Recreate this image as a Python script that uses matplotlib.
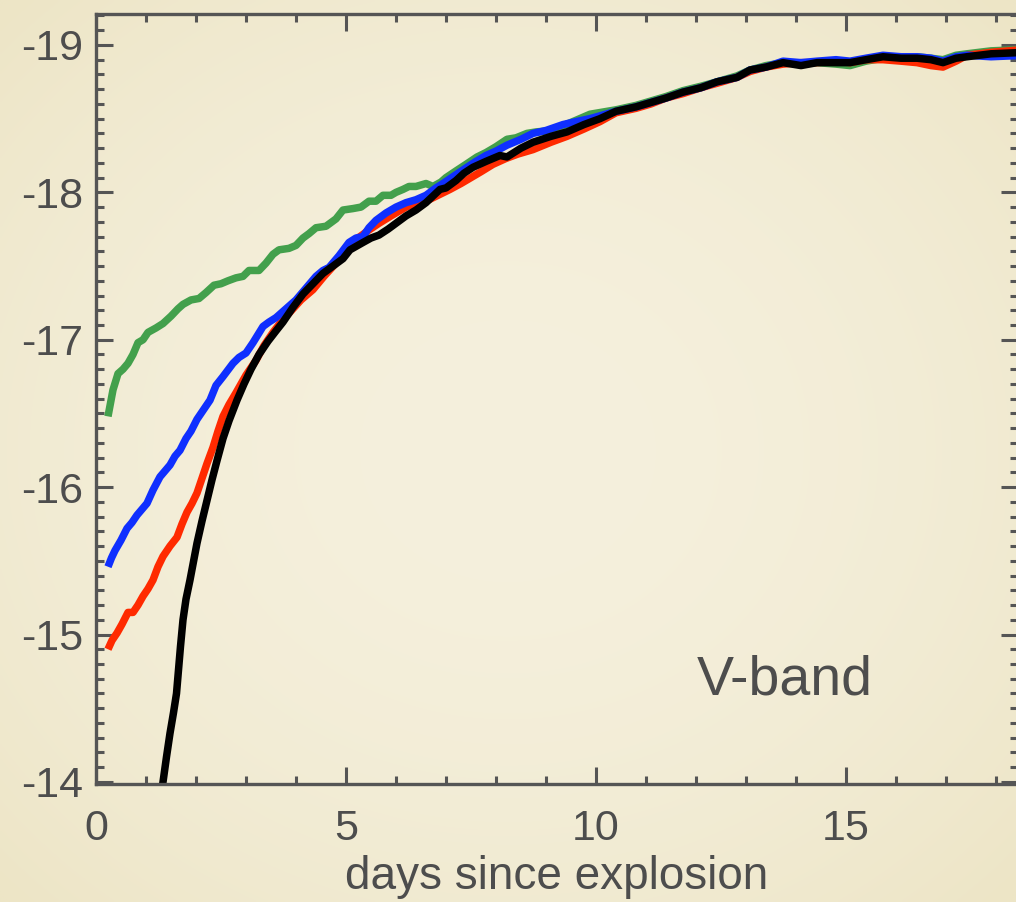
import numpy as np
import matplotlib
matplotlib.use('Agg')
import matplotlib.pyplot as plt
from matplotlib.ticker import MultipleLocator

plt.rcParams['font.family'] = ['Liberation Sans', 'DejaVu Sans']

# light curves (days, absolute V magnitude)
tail_t = [10.4, 10.8, 11.1, 11.4, 11.74, 12.1, 12.42, 12.82, 13.08, 13.4, 13.74, 14.1,
          14.42, 14.8, 15.08, 15.4, 15.74, 16.1, 16.42, 16.7, 16.94, 17.2, 17.42, 17.9, 18.6]

green_t = [0.24, 0.34, 0.44, 0.54, 0.64, 0.74, 0.84, 0.94, 1.04, 1.2, 1.34, 1.5, 1.64, 1.74,
           1.9, 2.06, 2.2, 2.36, 2.5, 2.64, 2.8, 2.94, 3.06, 3.26, 3.4, 3.54, 3.66, 3.86, 4.0,
           4.14, 4.26, 4.4, 4.6, 4.8, 4.94, 5.14, 5.3, 5.46, 5.6, 5.74, 5.9, 6.0, 6.14, 6.26,
           6.4, 6.6, 6.74, 6.9, 7.0, 7.22, 7.4, 7.62, 7.8, 8.0, 8.22, 8.4, 8.62, 8.8, 9.14,
           9.4, 9.88] + tail_t
green_m = [-16.48, -16.66, -16.77, -16.80, -16.84, -16.90, -16.98, -17.00, -17.05, -17.08,
           -17.11, -17.16, -17.21, -17.24, -17.27, -17.28, -17.32, -17.37, -17.38, -17.40,
           -17.42, -17.43, -17.47, -17.47, -17.52, -17.58, -17.61, -17.62, -17.64, -17.69,
           -17.72, -17.76, -17.77, -17.82, -17.88, -17.89, -17.90, -17.94, -17.94, -17.98,
           -17.98, -18.00, -18.02, -18.04, -18.04, -18.06, -18.04, -18.07, -18.10, -18.15,
           -18.19, -18.24, -18.27, -18.31, -18.36, -18.37, -18.40, -18.41, -18.42, -18.46,
           -18.53,
           -18.56, -18.59, -18.62, -18.65, -18.69, -18.72, -18.75, -18.79, -18.83, -18.86,
           -18.88, -18.87, -18.88, -18.87, -18.86, -18.89, -18.91, -18.92, -18.92, -18.91,
           -18.90, -18.93, -18.94, -18.96, -18.97]

blue_t = [0.24, 0.31, 0.38, 0.5, 0.62, 0.72, 0.82, 0.92, 1.02, 1.14, 1.28, 1.38, 1.48, 1.58,
          1.68, 1.8, 1.9, 2.02, 2.14, 2.28, 2.4, 2.54, 2.74, 2.86, 3.0, 3.14, 3.34, 3.46, 3.6,
          3.8, 4.0, 4.2, 4.4, 4.54, 4.66, 4.86, 5.06, 5.2, 5.34, 5.46, 5.6, 5.8, 6.0, 6.2, 6.4,
          6.6, 6.8, 6.94, 7.2, 7.42, 7.6, 7.8, 8.0, 8.22, 8.5, 8.74, 9.0, 9.34, 9.6, 9.88] + tail_t
blue_m = [-15.46, -15.52, -15.57, -15.64, -15.72, -15.76, -15.81, -15.85, -15.89, -15.98,
          -16.07, -16.11, -16.15, -16.21, -16.25, -16.33, -16.38, -16.46, -16.52, -16.59,
          -16.69, -16.75, -16.84, -16.88, -16.91, -16.98, -17.09, -17.12, -17.15, -17.21,
          -17.27, -17.35, -17.43, -17.47, -17.49, -17.57, -17.66, -17.69, -17.70, -17.76,
          -17.81, -17.86, -17.90, -17.93, -17.95, -17.98, -18.03, -18.06, -18.12, -18.17,
          -18.21, -18.25, -18.28, -18.32, -18.36, -18.40, -18.42, -18.46, -18.48, -18.50,
          -18.55, -18.58, -18.61, -18.64, -18.68, -18.71, -18.75, -18.78, -18.83, -18.85,
          -18.89, -18.88, -18.89, -18.90, -18.89, -18.91, -18.93, -18.92, -18.92, -18.91,
          -18.89, -18.92, -18.93, -18.92, -18.93]

red_t = [0.24, 0.32, 0.42, 0.52, 0.64, 0.74, 0.84, 0.94, 1.04, 1.14, 1.24, 1.34, 1.48, 1.62,
         1.72, 1.82, 1.92, 2.02, 2.12, 2.22, 2.34, 2.44, 2.54, 2.66, 2.8, 3.0, 3.2, 3.36, 3.54,
         3.7, 3.86, 4.1, 4.34, 4.56, 4.8, 5.0, 5.2, 5.44, 5.66, 5.9, 6.2, 6.44, 6.66, 6.84,
         7.08, 7.3, 7.5, 7.7, 7.94, 8.2, 8.44, 8.74, 9.1, 9.42, 9.76, 10.08] + tail_t
red_m = [-14.90, -14.96, -15.01, -15.07, -15.15, -15.15, -15.20, -15.26, -15.31, -15.37,
         -15.46, -15.53, -15.60, -15.66, -15.75, -15.83, -15.89, -15.96, -16.06, -16.16,
         -16.27, -16.38, -16.48, -16.56, -16.64, -16.76, -16.86, -16.96, -17.05, -17.12,
         -17.18, -17.27, -17.34, -17.43, -17.52, -17.60, -17.68, -17.74, -17.79, -17.84,
         -17.90, -17.93, -17.95, -17.98, -18.02, -18.06, -18.10, -18.14, -18.19, -18.23,
         -18.26, -18.29, -18.34, -18.38, -18.43, -18.48,
         -18.54, -18.57, -18.60, -18.64, -18.67, -18.71, -18.74, -18.78, -18.82, -18.85,
         -18.87, -18.88, -18.88, -18.89, -18.88, -18.90, -18.90, -18.89, -18.88, -18.86,
         -18.85, -18.89, -18.93, -18.95, -18.97]

black_t = [1.30, 1.34, 1.41, 1.48, 1.55, 1.61, 1.65, 1.69, 1.74, 1.80, 1.88, 2.02, 2.12, 2.22,
           2.32, 2.42, 2.54, 2.66, 2.82, 2.96, 3.1, 3.26, 3.44, 3.6, 3.74, 3.94, 4.14, 4.34,
           4.54, 4.74, 4.94, 5.08, 5.34, 5.5, 5.66, 5.84, 6.0, 6.2, 6.4, 6.6, 6.88, 7.0, 7.2,
           7.36, 7.54, 7.8, 8.08, 8.22, 8.5, 8.74, 9.1, 9.42, 9.76, 10.08] + tail_t
black_m = [-13.90, -14.00, -14.17, -14.33, -14.47, -14.60, -14.76, -14.92, -15.10, -15.24,
           -15.37, -15.62, -15.77, -15.91, -16.05, -16.18, -16.33, -16.45, -16.59, -16.70,
           -16.80, -16.90, -16.99, -17.06, -17.12, -17.22, -17.31, -17.38, -17.45, -17.50,
           -17.55, -17.61, -17.66, -17.69, -17.71, -17.75, -17.79, -17.84, -17.88, -17.93,
           -18.02, -18.03, -18.08, -18.13, -18.17, -18.21, -18.25, -18.24, -18.30, -18.34,
           -18.38, -18.41, -18.46, -18.50,
           -18.55, -18.58, -18.61, -18.64, -18.68, -18.71, -18.75, -18.78, -18.83, -18.85,
           -18.88, -18.86, -18.88, -18.88, -18.88, -18.90, -18.92, -18.91, -18.91, -18.90,
           -18.88, -18.91, -18.92, -18.94, -18.95]

series = [
    (green_t, green_m, '#43a04c'),
    (red_t, red_m, '#ff2a00'),
    (blue_t, blue_m, '#0f2fff'),
    (black_t, black_m, '#000000'),
]

W, H = 1016, 902
fig = plt.figure(figsize=(W / 100, H / 100), dpi=100)

# soft beige vignette behind everything
bg = fig.add_axes([0, 0, 1, 1], zorder=-10)
yy, xx = np.mgrid[0:1:300j, 0:1:340j]
r = np.sqrt(((xx - 0.5) / 0.7) ** 2 + ((yy - 0.5) / 0.7) ** 2)
a = np.clip(r ** 2, 0, 1)[..., None]
center = np.array([245, 240, 221]) / 255.0
edge = np.array([237, 229, 198]) / 255.0
img = center * (1 - a) + edge * a
bg.imshow(img, extent=[0, 1, 0, 1], aspect='auto', interpolation='bilinear')
bg.axis('off')

ax = fig.add_axes([96 / W, 118 / H, 922 / W, 770 / H])
ax.set_facecolor('none')

for t, m, c in series:
    ax.plot(t, m, color=c, lw=5.4, solid_joinstyle='round', solid_capstyle='butt')

ax.set_xlim(0, 18.44)
ax.set_ylim(-13.986, -19.21)

gray = '#4d4d4d'
for s in ax.spines.values():
    s.set_color('#555555')
    s.set_linewidth(2.4)

ax.xaxis.set_major_locator(MultipleLocator(5))
ax.xaxis.set_minor_locator(MultipleLocator(1))
ax.yaxis.set_major_locator(MultipleLocator(1))
ax.yaxis.set_minor_locator(MultipleLocator(0.1))
ax.tick_params(which='both', direction='in', top=True, right=True, color='#555555',
               width=2.2, labelcolor=gray, labelsize=31)
ax.tick_params(which='major', length=12)
ax.tick_params(which='minor', length=6)
ax.tick_params(axis='x', pad=18)
ax.tick_params(axis='y', pad=9)
ax.set_yticklabels([f'{v:.0f}' for v in ax.get_yticks()])

ax.set_xlabel('days since explosion', fontsize=33, color=gray, labelpad=4)
ax.text(12.02, -14.59, 'V-band', fontsize=40, color=gray, ha='left', va='baseline')

fig.savefig('out.png', dpi=100)
